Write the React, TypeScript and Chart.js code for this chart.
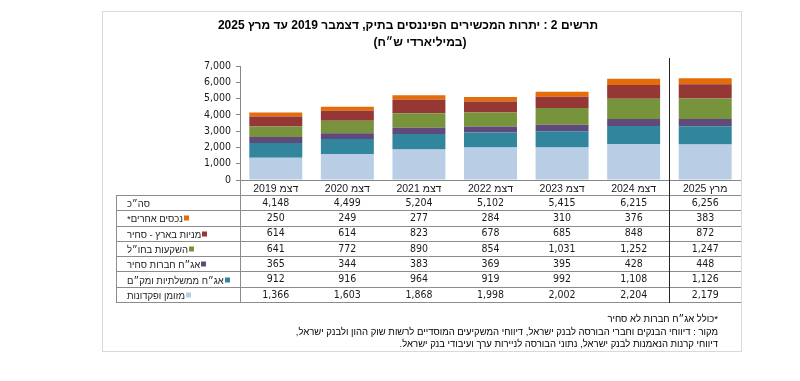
import React, { useEffect, useRef, useState } from 'react';
import { Chart, registerables } from 'chart.js';

Chart.register(...registerables);

const categories = ['דצמ 2019', 'דצמ 2020', 'דצמ 2021', 'דצמ 2022', 'דצמ 2023', 'דצמ 2024', 'מרץ 2025'];
const totals = [4148, 4499, 5204, 5102, 5415, 6215, 6256];
const otherAssets = [250, 249, 277, 284, 310, 376, 383];
const domesticEquity = [614, 614, 823, 678, 685, 848, 872];
const foreignInvest = [641, 772, 890, 854, 1031, 1252, 1247];
const corpBonds = [365, 344, 383, 369, 395, 428, 448];
const govBonds = [912, 916, 964, 919, 992, 1108, 1126];
const cashDeposits = [1366, 1603, 1868, 1998, 2002, 2204, 2179];

const seriesNames = ['מזומן ופקדונות', 'אג״ח ממשלתיות ומק״ם', 'אג״ח חברות סחיר', 'השקעות בחו״ל', 'מניות בארץ - סחיר', 'נכסים אחרים*'];
const seriesColors = ['#B9CDE5', '#31859C', '#604A7B', '#77933C', '#953735', '#E46C0A'];
const totalLabel = 'סה״כ';

const titleText = 'תרשים 2 : יתרות המכשירים הפיננסים בתיק, דצמבר 2019 עד מרץ 2025';
const subtitleText = '(במיליארדי ש״ח)';
const footnotes = [
  '*כולל אג״ח חברות לא סחיר',
  'מקור : דיווחי הבנקים וחברי הבורסה לבנק ישראל, דיווחי המשקיעים המוסדיים לרשות שוק ההון ולבנק ישראל,',
  'דיווחי קרנות הנאמנות לבנק ישראל, נתוני הבורסה לניירות ערך ועיבודי בנק ישראל.',
];

const FONT = '"DejaVu Sans Condensed", "DejaVu Sans", sans-serif';
const HFONT = '"Liberation Sans", "DejaVu Sans", sans-serif';
const fmt = (v: number) => v.toLocaleString('en-US');

const TABLE_TOP = 195;
const TABLE_BOTTOM = 302;
const tableRows = [
  { label: totalLabel, values: totals, color: null as string | null },
  { label: seriesNames[5], values: otherAssets, color: seriesColors[5] },
  { label: seriesNames[4], values: domesticEquity, color: seriesColors[4] },
  { label: seriesNames[3], values: foreignInvest, color: seriesColors[3] },
  { label: seriesNames[2], values: corpBonds, color: seriesColors[2] },
  { label: seriesNames[1], values: govBonds, color: seriesColors[1] },
  { label: seriesNames[0], values: cashDeposits, color: seriesColors[0] },
];
const ROW_H = (TABLE_BOTTOM - TABLE_TOP) / tableRows.length;

const tablePlugin = {
  id: 'tablePlugin',
  afterDraw(chart: any) {
    const ctx: CanvasRenderingContext2D = chart.ctx;
    const xs = chart.scales.x;
    const area = chart.chartArea;
    ctx.save();
    ctx.strokeStyle = '#D9D9D9';
    ctx.lineWidth = 1;
    ctx.strokeRect(102.5, 11.5, 639, 340);

    const left = 116;
    const right = area.right;
    const labelRight = area.left;
    ctx.strokeStyle = '#8C8C8C';
    ctx.beginPath();
    for (let i = 0; i <= tableRows.length; i++) {
      const y = Math.round(TABLE_TOP + i * ROW_H) + 0.5;
      ctx.moveTo(left, y);
      ctx.lineTo(right, y);
    }
    ctx.moveTo(left + 0.5, TABLE_TOP);
    ctx.lineTo(left + 0.5, TABLE_BOTTOM + 1);
    ctx.moveTo(Math.round(labelRight) + 0.5, area.bottom);
    ctx.lineTo(Math.round(labelRight) + 0.5, TABLE_BOTTOM + 1);
    ctx.stroke();

    const sepX = Math.round((xs.getPixelForValue(5) + xs.getPixelForValue(6)) / 2) + 0.5;
    ctx.strokeStyle = '#262626';
    ctx.beginPath();
    ctx.moveTo(sepX, 58);
    ctx.lineTo(sepX, TABLE_BOTTOM + 1);
    ctx.stroke();

    ctx.font = '10.5px ' + FONT;
    ctx.fillStyle = '#1a1a1a';
    ctx.textAlign = 'center';
    ctx.textBaseline = 'middle';
    tableRows.forEach((r, i) => {
      const cy = TABLE_TOP + (i + 0.5) * ROW_H + 0.5;
      r.values.forEach((v, j) => {
        ctx.fillText(fmt(v), xs.getPixelForValue(j), cy);
      });
    });
    ctx.restore();
  },
};

export default function App() {
  const ref = useRef<HTMLCanvasElement>(null);
  const [xPos, setXPos] = useState<number[]>([]);
  useEffect(() => {
    const data = [cashDeposits, govBonds, corpBonds, foreignInvest, domesticEquity, otherAssets];
    const chart = new Chart(ref.current!, {
      type: 'bar',
      data: {
        labels: categories,
        datasets: data.map((d, i) => ({
          label: seriesNames[i],
          data: d,
          backgroundColor: seriesColors[i],
          borderWidth: 0,
          categoryPercentage: 1,
          barPercentage: 0.74,
        })),
      },
      options: {
        responsive: false,
        animation: false,
        events: [],
        layout: { padding: { left: 102, right: 59, top: 66, bottom: 186 } },
        plugins: { legend: { display: false }, tooltip: { enabled: false }, title: { display: false } },
        scales: {
          x: {
            stacked: true,
            grid: { display: false, drawTicks: false },
            border: { display: true, color: '#868686' },
            ticks: { display: false },
            afterFit: (s: any) => { s.height = 15; },
          },
          y: {
            stacked: true,
            min: 0,
            max: 7000,
            grid: { drawOnChartArea: false, tickLength: 4, color: '#868686' },
            border: { display: true, color: '#868686' },
            ticks: { stepSize: 1000, color: '#1a1a1a', font: { family: FONT, size: 10.5 }, padding: 5 },
            afterFit: (s: any) => { s.width = 138; },
          },
        },
      },
      plugins: [tablePlugin],
    });
    const xs = chart.scales.x;
    setXPos(categories.map((_, i) => xs.getPixelForValue(i)));
    return () => chart.destroy();
  }, []);

  const abs: React.CSSProperties = { position: 'absolute', whiteSpace: 'nowrap', lineHeight: 1 };
  return (
    <div style={{ position: 'absolute', left: 0, top: 0, width: 800, height: 381, background: '#fff', overflow: 'hidden' }}>
      <canvas ref={ref} width={800} height={381} style={{ display: 'block', width: 800, height: 381 }} />
      <div dir="rtl" style={{ ...abs, left: 408, top: 25, transform: 'translate(-50%,-50%)', font: 'bold 12px ' + HFONT, color: '#000' }}>{titleText}</div>
      <div dir="rtl" style={{ ...abs, left: 420, top: 42, transform: 'translate(-50%,-50%)', font: 'bold 12px ' + HFONT, color: '#000' }}>{subtitleText}</div>
      {xPos.map((x, i) => (
        <div key={'c' + i} dir="rtl" style={{ ...abs, left: x, top: 187.5, transform: 'translate(-50%,-50%)', font: '10.5px ' + HFONT, color: '#1a1a1a' }}>{categories[i]}</div>
      ))}
      {tableRows.map((r, i) => (
        <div key={'r' + i} style={{ ...abs, left: 127, top: TABLE_TOP + (i + 0.5) * ROW_H + 0.5, transform: 'translateY(-50%)', display: 'flex', alignItems: 'center', direction: 'ltr' }}>
          <span dir="rtl" style={{ font: '9.5px ' + HFONT, color: '#1a1a1a' }}>{r.label}</span>
          {r.color ? <span style={{ display: 'inline-block', width: 5, height: 5, marginLeft: 1, background: r.color }} /> : null}
        </div>
      ))}
      {footnotes.map((t, i) => (
        <div key={'f' + i} dir="rtl" style={{ ...abs, right: 800 - 718, top: 318 + i * 12.5, transform: 'translateY(-50%)', font: '9.5px ' + HFONT, color: '#000' }}>{t}</div>
      ))}
    </div>
  );
}
